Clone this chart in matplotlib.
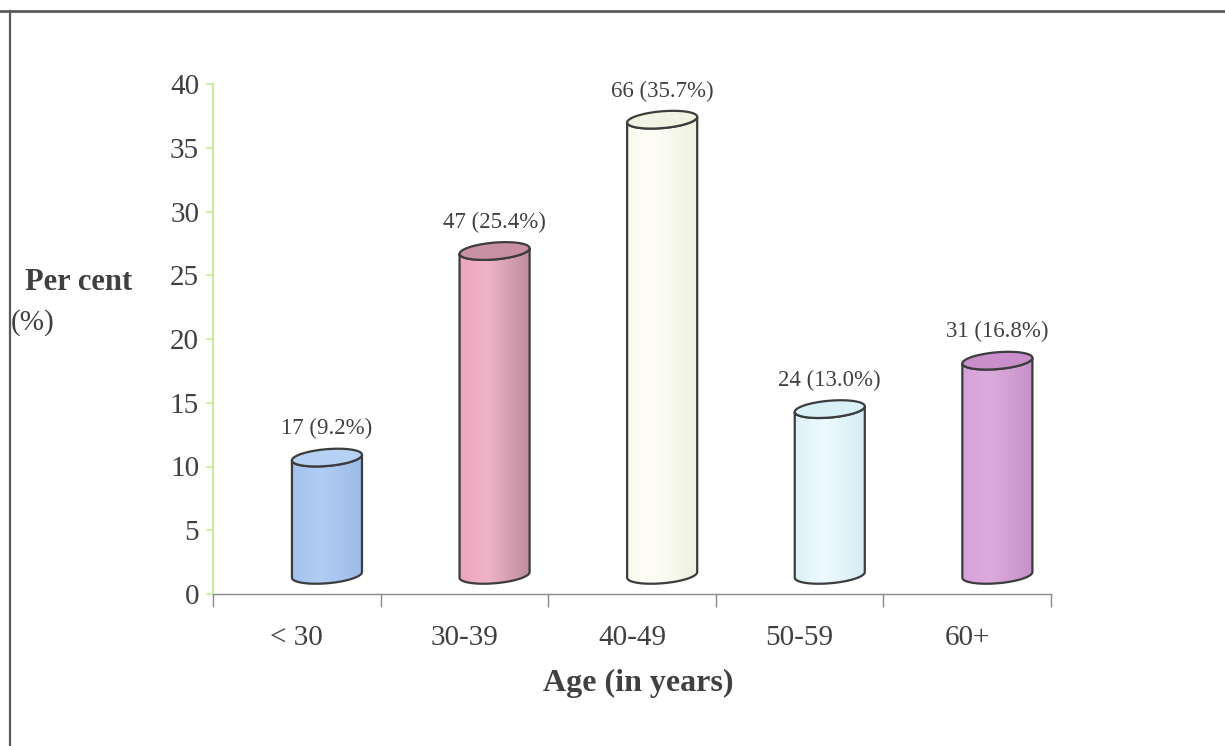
import numpy as np
import matplotlib
matplotlib.use("Agg")
import matplotlib.pyplot as plt
from matplotlib.patches import Polygon
from matplotlib.lines import Line2D
from matplotlib.colors import to_rgb

# ---- data ----
categories = ["< 30", "30-39", "40-49", "50-59", "60+"]
counts = [17, 47, 66, 24, 31]
percents = [9.2, 25.4, 35.7, 13.0, 16.8]
yticks = [0, 5, 10, 15, 20, 25, 30, 35, 40]

# side colours of each cylinder: left, highlight, right; and the lid colour
side_left = ["#a2c2ed", "#eaa6bd", "#fbfbf2", "#dcf1f7", "#d7a2d9"]
side_mid = ["#b0cdf3", "#efb3c6", "#fdfdf6", "#eefafc", "#dcabdd"]
side_right = ["#9cbbe7", "#bb8c9e", "#eff1de", "#d4edf4", "#c690c9"]
lid_colors = ["#b6d1f3", "#c98fa3", "#f1f4e2", "#d9f0f6", "#c98fca"]

text_color = "#404040"
edge_color = "#3c3c3c"
plt.rcParams["font.family"] = ["Liberation Serif", "DejaVu Serif"]

fig = plt.figure(figsize=(12.25, 7.46), dpi=100)
ax = fig.add_axes([213 / 1225, 1 - 594 / 746, (1051 - 213) / 1225, (594 - 84) / 746])

# cylinder geometry (data units)
half_w = 0.209      # half width of a cylinder
rad_y = 0.66        # vertical semi-axis of the elliptical ends
tilt = 0.22         # ends rise slightly to the right
shift_x = 0.18      # depth shift to the right
base_y = 1.5        # depth shift upwards


def ellipse_pts(cx, cy, t):
    return np.column_stack([cx + half_w * np.cos(t),
                            cy + rad_y * np.sin(t) + tilt * np.cos(t)])


for i, v in enumerate(percents):
    cx = i + 0.5 + shift_x
    yb = base_y
    yt = base_y + v
    front_bottom = ellipse_pts(cx, yb, np.linspace(np.pi, 2 * np.pi, 60))
    front_top = ellipse_pts(cx, yt, np.linspace(2 * np.pi, np.pi, 60))
    body_xy = np.vstack([front_bottom, front_top])

    body = Polygon(body_xy, closed=True, facecolor="none", edgecolor="none")
    ax.add_patch(body)

    # horizontal shading across the cylinder side
    n = 200
    u = np.linspace(0, 1, n)
    cl, cm, cr = (np.array(to_rgb(c)) for c in (side_left[i], side_mid[i], side_right[i]))
    grad = np.empty((1, n, 3))
    for k, uu in enumerate(u):
        if uu < 0.4:
            w = uu / 0.4
            grad[0, k] = cl * (1 - w) + cm * w
        else:
            w = (uu - 0.4) / 0.6
            grad[0, k] = cm * (1 - w) + cr * w
    im = ax.imshow(grad, extent=(cx - half_w, cx + half_w, yb - 1.2, yt + 1.2),
                   aspect="auto", origin="lower", zorder=2, interpolation="bilinear")
    im.set_clip_path(body)

    # outline of the side
    ax.add_patch(Polygon(body_xy, closed=True, facecolor="none",
                         edgecolor=edge_color, linewidth=1.6, zorder=3))
    # lid
    lid_xy = ellipse_pts(cx, yt, np.linspace(0, 2 * np.pi, 120))
    ax.add_patch(Polygon(lid_xy, closed=True, facecolor=lid_colors[i],
                         edgecolor=edge_color, linewidth=1.6, zorder=4))

    ax.annotate(f"{counts[i]} ({v:.1f}%)", xy=(cx, yt + rad_y + tilt * 0.5),
                xytext=(0, 6), textcoords="offset points",
                ha="center", va="bottom", fontsize=16.5, color=text_color, zorder=5)

ax.set_xlim(0, 5)
ax.set_ylim(0, 40)

# axes styling
for side in ("top", "right"):
    ax.spines[side].set_visible(False)
ax.spines["left"].set_color("#c6ee9a")
ax.spines["left"].set_linewidth(1.5)
ax.spines["bottom"].set_color("#8a8a8a")
ax.spines["bottom"].set_linewidth(1.0)

ax.set_yticks(yticks)
ax.set_yticklabels([str(t) for t in yticks])
ax.tick_params(axis="y", colors="#c6ee9a", length=5, width=1.2, direction="out",
               labelsize=21, labelcolor=text_color, pad=5)

ax.set_xticks(range(6))
ax.set_xticklabels([""] * 6)
ax.tick_params(axis="x", which="major", colors="#8a8a8a", length=9, width=1.0,
               direction="out")
ax.set_xticks([i + 0.5 for i in range(len(categories))], minor=True)
ax.set_xticklabels(categories, minor=True)
ax.tick_params(axis="x", which="minor", length=0, labelsize=21,
               labelcolor=text_color, pad=22)

# axis titles
fig.text(25 / 1225, 1 - 283 / 746, "Per cent", fontsize=22, fontweight="bold",
         color=text_color, ha="left", va="center")
fig.text(11 / 1225, 1 - 323 / 746, "(%)", fontsize=21,
         color=text_color, ha="left", va="center")
fig.text(638 / 1225, 1 - 683 / 746, "Age (in years)", fontsize=23, fontweight="bold",
         color=text_color, ha="center", va="center")

# frame lines at the top and left edges
fig.add_artist(Line2D([0, 1], [1 - 11 / 746] * 2, transform=fig.transFigure,
                      color="#5a5a5a", linewidth=2.0))
fig.add_artist(Line2D([10 / 1225] * 2, [0, 1 - 11 / 746], transform=fig.transFigure,
                      color="#5a5a5a", linewidth=1.6))

fig.savefig("out.png", dpi=100, facecolor="white")
